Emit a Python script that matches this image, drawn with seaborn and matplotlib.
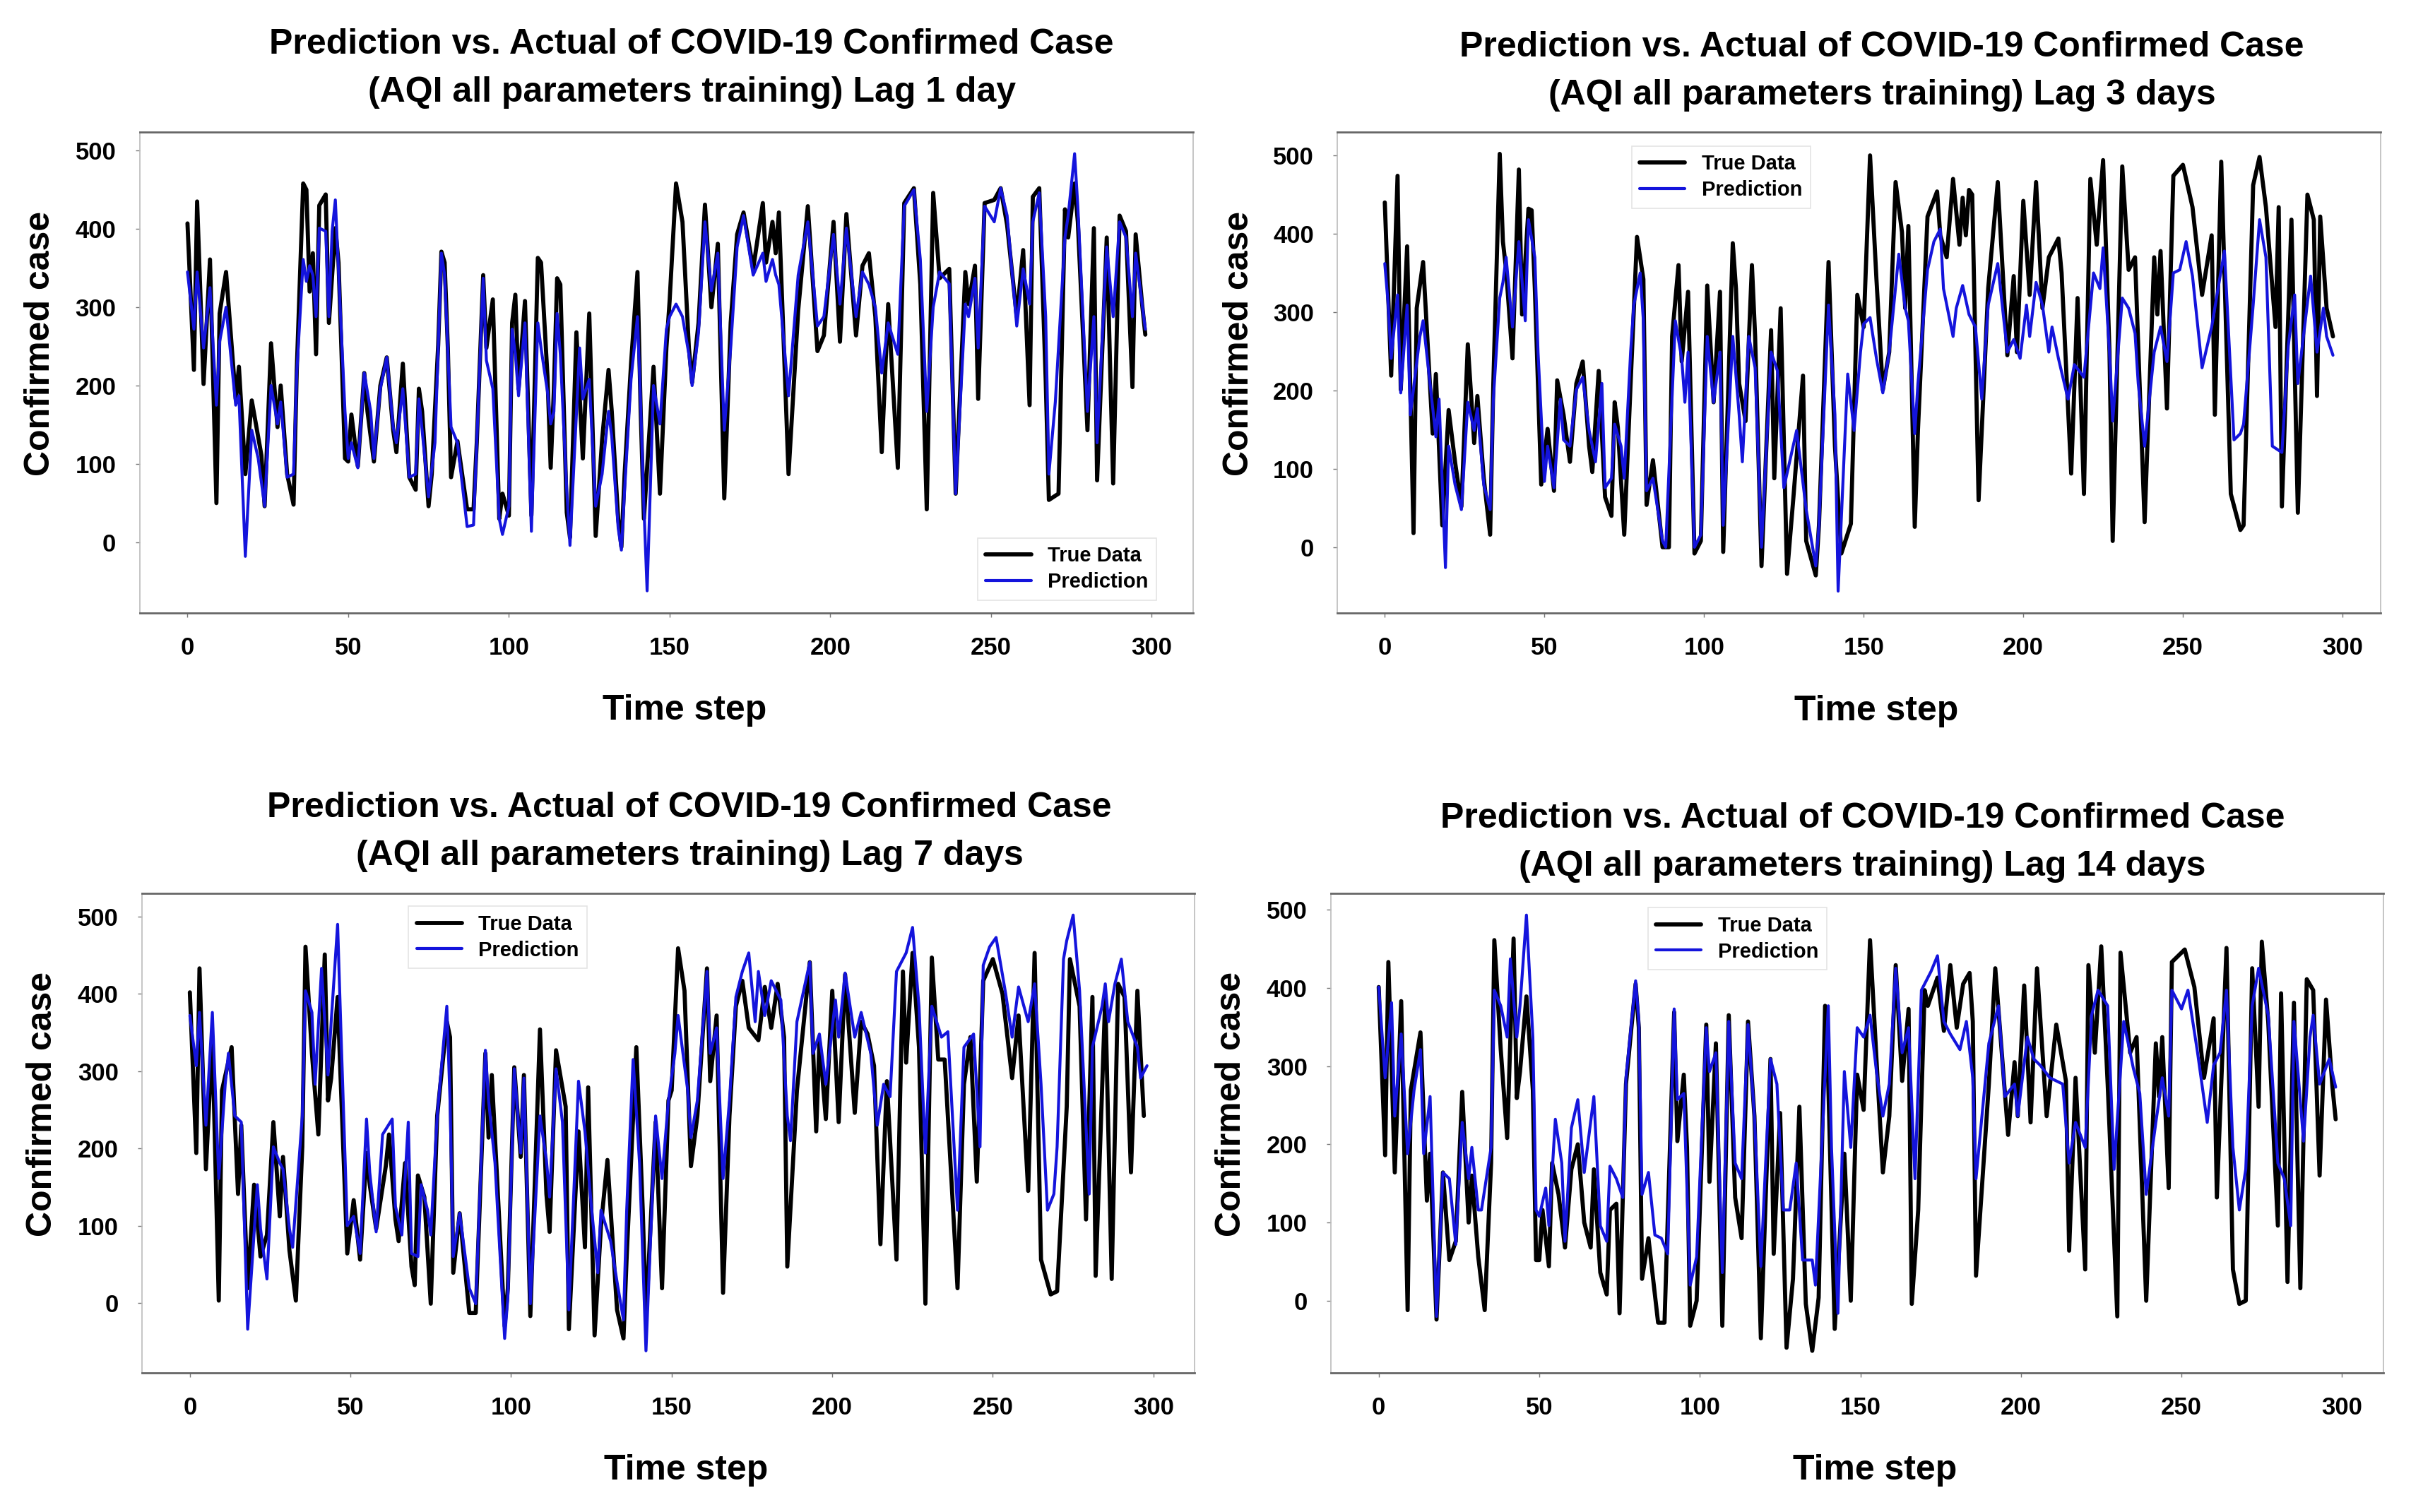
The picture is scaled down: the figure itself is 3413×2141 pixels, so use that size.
import matplotlib
matplotlib.use("Agg")
import matplotlib.pyplot as plt
import pandas as pd
import seaborn as sns

# -----------------------------
# Values: (time step, confirmed cases)
# -----------------------------
lag1_true = [(0,407),(2,220),(3,435),(5,202),(7,361),(9,50),(10,292),(12,345),(15,183),(16,224),(18,87),(20,181),(23,111),(24,46),(26,254),(28,147),(29,200),(31,87),(33,48),(34,220),(36,458),(37,450),(38,320),(39,369),(40,240),(41,430),(43,444),(44,280),(46,401),(47,357),(49,107),(50,103),(51,163),(53,97),(55,216),(56,167),(58,103),(60,200),(62,236),(64,143),(65,115),(67,228),(69,83),(71,67),(72,196),(73,167),(75,46),(76,87),(78,252),(79,371),(80,357),(81,248),(82,83),(84,129),(87,42),(89,42),(90,127),(92,341),(93,248),(95,310),(97,30),(98,62),(100,34),(101,280),(102,316),(103,196),(105,308),(107,34),(109,363),(110,357),(112,212),(113,95),(114,196),(115,337),(116,329),(118,38),(119,6),(121,268),(123,107),(125,292),(127,8),(129,131),(131,220),(132,167),(134,30),(135,-6),(136,87),(138,228),(140,345),(141,167),(142,30),(145,224),(147,62),(149,248),(150,308),(152,458),(154,409),(156,248),(157,204),(159,280),(161,431),(163,300),(165,381),(167,56),(169,280),(171,393),(173,421),(176,349),(179,433),(180,357),(182,409),(183,369),(184,421),(187,87),(190,296),(193,429),(196,244),(198,264),(201,409),(203,256),(205,419),(208,264),(210,353),(212,369),(214,288),(216,115),(218,304),(221,95),(223,433),(226,452),(228,329),(230,42),(232,446),(234,337),(237,349),(239,62),(242,345),(243,304),(245,353),(246,183),(248,433),(251,437),(253,452),(255,405),(258,288),(260,373),(262,175),(263,441),(265,452),(267,208),(268,54),(271,62),(273,425),(274,389),(276,458),(277,409),(280,143),(282,401),(283,79),(286,389),(288,75),(290,417),(292,397),(294,198),(295,393),(297,304),(298,265)]
lag1_pred = [(0,345),(2,272),(3,345),(5,248),(7,325),(9,175),(10,256),(12,300),(15,175),(16,187),(18,-18),(20,143),(22,107),(24,46),(26,200),(28,151),(29,179),(31,83),(33,87),(34,216),(36,361),(37,333),(38,353),(39,341),(40,288),(41,401),(43,397),(44,288),(45,397),(46,437),(47,345),(49,167),(50,107),(51,127),(53,95),(55,216),(57,167),(58,107),(60,196),(62,236),(64,147),(65,127),(67,196),(69,83),(71,87),(72,183),(73,143),(75,58),(77,127),(79,369),(80,341),(82,147),(84,127),(87,20),(89,22),(90,127),(92,337),(93,232),(95,196),(97,30),(98,10),(100,46),(101,272),(102,240),(103,187),(105,280),(107,14),(109,280),(110,248),(112,192),(113,151),(114,167),(115,292),(116,240),(118,67),(119,-4),(122,248),(123,183),(125,208),(127,46),(129,87),(131,167),(132,135),(134,18),(135,-10),(136,67),(138,208),(140,288),(141,175),(142,46),(143,-62),(145,200),(147,151),(149,272),(150,288),(152,304),(154,288),(156,240),(157,200),(159,268),(161,409),(163,321),(165,369),(167,143),(169,248),(171,377),(173,417),(176,341),(179,369),(180,333),(182,361),(183,341),(184,329),(187,187),(190,341),(193,409),(196,276),(198,288),(201,393),(203,304),(205,401),(208,288),(210,345),(212,329),(214,300),(216,216),(218,280),(221,240),(223,429),(226,450),(228,361),(230,167),(232,300),(234,345),(237,330),(239,62),(242,304),(243,288),(245,337),(246,248),(248,429),(251,409),(253,452),(255,417),(258,276),(260,349),(262,304),(263,409),(265,446),(267,288),(268,87),(270,179),(273,389),(274,417),(276,496),(277,429),(280,167),(282,288),(283,127),(286,377),(288,288),(290,409),(292,389),(294,288),(295,369),(297,304),(298,272)]

lag3_true = [(0,440),(2,219),(4,474),(5,201),(7,384),(9,18),(10,305),(12,364),(15,145),(16,221),(18,28),(20,175),(22,109),(24,52),(26,259),(28,133),(29,193),(31,88),(33,16),(34,209),(36,502),(37,390),(38,354),(40,241),(42,482),(43,297),(45,432),(46,430),(47,330),(49,80),(51,151),(53,72),(54,213),(56,169),(58,109),(60,209),(62,237),(64,129),(65,96),(67,225),(69,64),(71,40),(72,185),(73,153),(75,16),(77,209),(79,396),(81,342),(82,54),(84,111),(87,0),(89,0),(90,269),(92,360),(93,237),(95,326),(97,-8),(99,8),(101,334),(103,185),(105,326),(106,-6),(109,388),(110,330),(111,209),(113,161),(115,360),(116,269),(118,-24),(121,277),(122,88),(124,305),(126,-34),(128,64),(131,219),(132,8),(135,-36),(136,28),(139,364),(141,129),(143,-8),(146,30),(148,322),(150,281),(152,500),(154,342),(156,201),(158,249),(160,466),(162,402),(163,305),(164,410),(166,26),(167,149),(170,422),(173,454),(174,398),(176,370),(178,470),(180,386),(181,446),(182,398),(183,456),(184,450),(186,60),(189,330),(192,466),(195,245),(197,346),(198,249),(200,442),(202,322),(204,466),(206,305),(208,370),(211,394),(212,350),(215,94),(217,318),(219,68),(221,470),(223,386),(225,494),(227,249),(228,8),(231,486),(233,354),(235,370),(238,32),(241,370),(242,297),(243,378),(245,177),(247,474),(250,488),(253,434),(256,322),(259,398),(260,169),(262,492),(265,68),(268,22),(269,28),(272,462),(274,498),(276,434),(279,281),(280,434),(281,52),(284,418),(286,44),(289,450),(291,418),(292,193),(293,422),(295,305),(297,269)]
lag3_pred = [(0,362),(1,313),(2,241),(4,322),(5,197),(7,309),(8,169),(11,269),(12,289),(16,141),(17,189),(19,-26),(20,129),(22,80),(24,48),(26,185),(28,149),(29,177),(31,80),(33,48),(34,189),(36,318),(37,338),(38,370),(40,281),(42,390),(44,289),(45,418),(47,370),(48,249),(50,84),(51,129),(53,76),(55,189),(56,137),(58,129),(60,201),(62,217),(64,149),(66,109),(68,209),(69,76),(71,88),(72,157),(74,129),(75,88),(77,249),(78,309),(80,350),(81,289),(82,72),(84,88),(87,8),(88,0),(91,289),(93,241),(94,185),(95,249),(97,0),(99,16),(101,269),(103,185),(105,249),(106,28),(109,269),(111,169),(112,109),(114,269),(116,229),(118,0),(121,249),(123,225),(125,76),(129,149),(132,48),(135,-24),(136,28),(139,309),(141,169),(142,-56),(145,221),(147,149),(149,249),(150,285),(152,293),(154,241),(156,197),(158,249),(161,374),(163,305),(164,289),(166,145),(167,209),(170,354),(172,390),(174,406),(175,330),(178,269),(179,305),(181,334),(183,297),(185,281),(187,189),(189,309),(192,362),(195,249),(197,265),(199,241),(201,309),(202,269),(204,338),(206,309),(208,249),(209,281),(211,241),(214,189),(216,233),(219,217),(222,350),(224,330),(225,382),(227,249),(228,161),(231,318),(233,305),(235,273),(236,209),(238,129),(241,249),(243,281),(245,237),(247,350),(249,354),(251,390),(253,346),(256,229),(259,281),(261,330),(263,378),(266,137),(268,145),(269,157),(272,309),(274,418),(276,370),(278,129),(281,121),(283,257),(285,322),(286,209),(290,346),(292,249),(294,305),(295,269),(297,245)]

lag7_true = [(0,402),(2,194),(3,433),(5,173),(7,344),(9,3),(10,275),(13,331),(15,141),(16,230),(18,19),(20,153),(22,60),(24,88),(26,234),(28,112),(29,189),(31,68),(33,3),(35,202),(36,461),(38,323),(40,218),(42,451),(43,262),(44,291),(46,396),(47,283),(49,64),(51,133),(53,56),(55,194),(56,153),(58,96),(61,177),(62,218),(64,108),(65,80),(67,181),(69,47),(70,23),(71,165),(73,137),(75,-1),(77,242),(80,364),(81,344),(82,39),(84,116),(87,-13),(89,-13),(92,323),(93,214),(94,295),(95,214),(98,-30),(99,19),(101,305),(103,189),(104,295),(106,-17),(109,354),(111,141),(112,92),(114,327),(117,254),(118,-34),(121,222),(123,72),(124,279),(126,-42),(128,100),(130,185),(133,-9),(135,-46),(136,60),(139,331),(141,120),(142,-22),(145,234),(147,19),(149,262),(150,275),(152,459),(154,404),(156,177),(158,242),(161,433),(162,287),(164,372),(166,13),(168,242),(170,384),(172,417),(174,356),(177,340),(179,409),(181,356),(183,413),(185,344),(186,47),(189,275),(193,441),(195,222),(196,340),(198,238),(200,404),(202,234),(204,425),(207,246),(209,364),(211,348),(213,307),(215,76),(217,287),(220,56),(222,429),(223,311),(225,453),(227,331),(229,-1),(231,447),(233,315),(235,315),(239,19),(241,283),(243,344),(245,157),(247,417),(250,445),(253,400),(256,291),(258,372),(261,145),(263,453),(265,56),(268,11),(270,15),(273,254),(274,445),(277,384),(279,108),(281,396),(282,35),(285,396),(287,31),(289,413),(291,396),(293,169),(295,404),(297,242)]
lag7_pred = [(0,372),(2,307),(3,376),(5,230),(7,376),(9,161),(11,283),(12,323),(14,242),(16,234),(18,-34),(21,153),(22,96),(24,31),(26,202),(28,181),(29,173),(31,96),(32,72),(35,242),(36,404),(38,376),(39,283),(41,433),(43,295),(44,364),(46,490),(47,356),(49,100),(51,112),(53,64),(55,238),(56,169),(58,92),(60,218),(63,238),(64,125),(66,88),(68,234),(69,64),(71,60),(72,153),(74,120),(75,88),(77,242),(80,384),(81,262),(82,60),(84,116),(87,19),(89,-1),(92,327),(93,262),(95,181),(98,-46),(99,7),(101,303),(103,194),(104,291),(106,-1),(109,242),(111,185),(112,137),(114,303),(116,234),(118,-9),(121,287),(123,222),(125,125),(127,39),(128,120),(131,80),(133,27),(135,-22),(136,120),(138,315),(140,181),(142,-62),(145,242),(147,161),(149,262),(151,323),(152,372),(155,275),(156,214),(158,262),(161,429),(162,323),(164,356),(166,161),(168,262),(170,396),(172,429),(174,453),(176,364),(177,429),(179,372),(181,417),(184,392),(186,242),(187,210),(189,364),(193,441),(194,323),(196,348),(198,283),(201,392),(202,344),(204,427),(207,344),(209,376),(212,323),(214,230),(216,283),(218,267),(220,429),(223,453),(225,486),(227,384),(229,194),(231,384),(234,344),(236,351),(239,120),(241,331),(244,348),(246,202),(247,437),(249,461),(251,473),(254,400),(256,344),(258,409),(261,364),(263,413),(265,283),(267,120),(269,141),(270,202),(272,445),(273,469),(275,502),(277,404),(280,141),(281,331),(284,384),(285,413),(286,364),(288,413),(290,445),(292,364),(295,331),(296,291),(298,307)]

lag14_true = [(0,401),(2,186),(3,433),(5,164),(7,383),(9,-12),(10,269),(13,343),(15,128),(16,188),(18,-24),(20,164),(22,52),(24,76),(26,267),(28,100),(29,160),(31,56),(33,-12),(35,176),(36,461),(38,321),(40,208),(42,463),(43,259),(44,293),(46,389),(48,269),(49,52),(50,52),(51,116),(53,44),(54,176),(56,136),(58,68),(60,168),(62,200),(64,100),(66,68),(67,168),(69,36),(71,8),(72,116),(74,124),(75,-16),(77,277),(80,405),(81,349),(82,28),(84,80),(87,-28),(89,-28),(92,369),(93,204),(95,289),(96,196),(97,-32),(99,0),(102,353),(103,152),(105,329),(107,-32),(109,365),(111,132),(113,80),(115,357),(117,236),(119,-48),(122,309),(123,60),(125,240),(127,-60),(129,28),(131,248),(133,-4),(135,-64),(137,4),(139,377),(140,277),(142,-36),(145,188),(147,0),(149,289),(151,244),(153,461),(155,309),(157,164),(159,236),(161,429),(163,281),(165,373),(166,-4),(168,116),(170,397),(171,377),(174,413),(176,345),(178,429),(180,349),(182,405),(184,419),(185,357),(186,32),(190,277),(192,425),(196,212),(198,305),(199,236),(201,403),(203,228),(205,425),(208,236),(211,353),(214,281),(215,64),(217,285),(220,40),(221,429),(223,317),(225,453),(227,277),(230,-20),(231,445),(234,317),(236,337),(239,0),(242,329),(243,261),(244,337),(246,144),(247,433),(251,449),(254,401),(257,285),(260,361),(261,132),(264,451),(266,40),(268,-4),(270,0),(272,425),(274,248),(275,459),(277,357),(280,96),(281,393),(283,24),(285,381),(287,16),(289,411),(291,397),(293,160),(295,385),(297,273),(298,232)]
lag14_pred = [(0,401),(2,285),(4,381),(5,236),(7,341),(9,188),(11,269),(13,321),(14,188),(16,261),(18,-20),(20,164),(22,156),(24,72),(26,228),(28,156),(29,196),(31,116),(32,116),(35,196),(36,397),(38,377),(40,337),(41,437),(43,337),(44,377),(46,493),(48,337),(49,116),(50,108),(52,144),(53,96),(55,232),(57,176),(58,76),(60,221),(62,257),(64,164),(67,261),(69,96),(71,76),(72,172),(74,156),(76,132),(77,285),(80,409),(81,357),(82,136),(84,164),(86,84),(88,80),(90,60),(92,373),(93,257),(95,265),(97,20),(99,56),(102,349),(103,293),(105,317),(107,36),(109,357),(111,176),(113,156),(115,353),(117,236),(119,44),(122,309),(124,277),(126,116),(128,116),(130,176),(132,52),(135,52),(136,20),(140,377),(141,196),(143,-16),(145,293),(147,196),(149,349),(151,337),(153,365),(155,293),(157,236),(159,277),(161,425),(163,317),(165,349),(167,156),(169,397),(172,421),(174,441),(176,357),(178,341),(181,321),(183,357),(185,285),(186,156),(190,329),(193,377),(195,261),(198,277),(199,236),(202,337),(204,309),(206,301),(209,285),(213,277),(215,176),(217,228),(220,196),(222,365),(224,397),(227,377),(229,168),(232,357),(235,297),(237,265),(239,136),(242,228),(244,285),(246,236),(247,397),(250,373),(252,397),(255,317),(258,228),(260,301),(262,317),(264,397),(266,196),(268,116),(270,168),(272,377),(274,425),(277,365),(280,176),(282,156),(284,96),(285,357),(288,204),(290,337),(291,365),(293,277),(296,309),(298,273)]

lag_labels = ["Lag 1 day", "Lag 3 days", "Lag 7 days", "Lag 14 days"]
x_ticks = [0, 50, 100, 150, 200, 250, 300]
y_ticks = [0, 100, 200, 300, 400, 500]

# -----------------------------
# Style
# -----------------------------
sns.set_theme(style="white")
plt.rcParams['font.family'] = ['Liberation Sans', 'DejaVu Sans']
plt.rcParams['font.weight'] = 'bold'
plt.rcParams['axes.labelweight'] = 'bold'
plt.rcParams['axes.titleweight'] = 'bold'
plt.rcParams['text.color'] = 'black'
plt.rcParams['axes.labelcolor'] = 'black'
plt.rcParams['xtick.color'] = 'black'
plt.rcParams['ytick.color'] = 'black'

fig = plt.figure(figsize=(34.13, 21.41), dpi=100)
fig.patch.set_facecolor('white')

# axes rectangles (left, bottom, width, height) in figure fractions
rects = [
    [0.0579, 0.5948, 0.4370, 0.3180],
    [0.5547, 0.5946, 0.4326, 0.3181],
    [0.0589, 0.0922, 0.4367, 0.3170],
    [0.5520, 0.0922, 0.4366, 0.3170],
]
panels = [(lag1_true, lag1_pred), (lag3_true, lag3_pred),
          (lag7_true, lag7_pred), (lag14_true, lag14_pred)]
legend_cfg = [
    dict(loc='lower right', bbox_to_anchor=(0.965, 0.026)),
    dict(loc='upper left', bbox_to_anchor=(0.282, 0.971)),
    dict(loc='upper left', bbox_to_anchor=(0.253, 0.973)),
    dict(loc='upper left', bbox_to_anchor=(0.301, 0.970)),
]
title_x = [0.524, 0.522, 0.52, 0.505]
title_pad = [31, 28, 29, 18]

for i, (true_pts, pred_pts) in enumerate(panels):
    ax = fig.add_axes(rects[i])
    true_df = pd.DataFrame(true_pts, columns=['step', 'cases'])
    pred_df = pd.DataFrame(pred_pts, columns=['step', 'cases'])

    sns.lineplot(data=true_df, x='step', y='cases', ax=ax, color='black',
                 linewidth=4.2, label='True Data', estimator=None, sort=False)
    sns.lineplot(data=pred_df, x='step', y='cases', ax=ax, color='#1414dc',
                 linewidth=3.0, label='Prediction', estimator=None, sort=False)

    ax.set_xticks(x_ticks)
    ax.set_yticks(y_ticks)
    ax.tick_params(axis='both', labelsize=25, pad=20, length=4, width=1,
                   color='#777777', labelcolor='black', bottom=True, left=True)

    ax.set_title("Prediction vs. Actual of COVID-19 Confirmed Case\n"
                 "(AQI all parameters training) " + lag_labels[i],
                 fontsize=36, fontweight='bold', color='black', x=title_x[i],
                 pad=title_pad[i], linespacing=1.6)
    ax.set_xlabel("Time step", fontsize=36, fontweight='bold', color='black')
    ax.set_ylabel("Confirmed case", fontsize=36, fontweight='bold', color='black')
    ax.xaxis.set_label_coords(0.517, -0.17)
    ax.yaxis.set_label_coords(-0.079, 0.56)

    for side in ['top', 'bottom']:
        ax.spines[side].set_color('#666666')
        ax.spines[side].set_linewidth(2)
    for side in ['left', 'right']:
        ax.spines[side].set_color('#bbbbbb')
        ax.spines[side].set_linewidth(1.2)

    leg = ax.legend(fontsize=21, frameon=True, fancybox=False,
                    borderaxespad=0, handlelength=2.2, borderpad=0.4,
                    labelspacing=0.3, **legend_cfg[i])
    leg.get_frame().set_edgecolor('#dddddd')
    leg.get_frame().set_linewidth(1.2)
    for t in leg.get_texts():
        t.set_fontweight('bold')
        t.set_color('black')

fig.savefig("out.png", dpi=100, facecolor='white')
